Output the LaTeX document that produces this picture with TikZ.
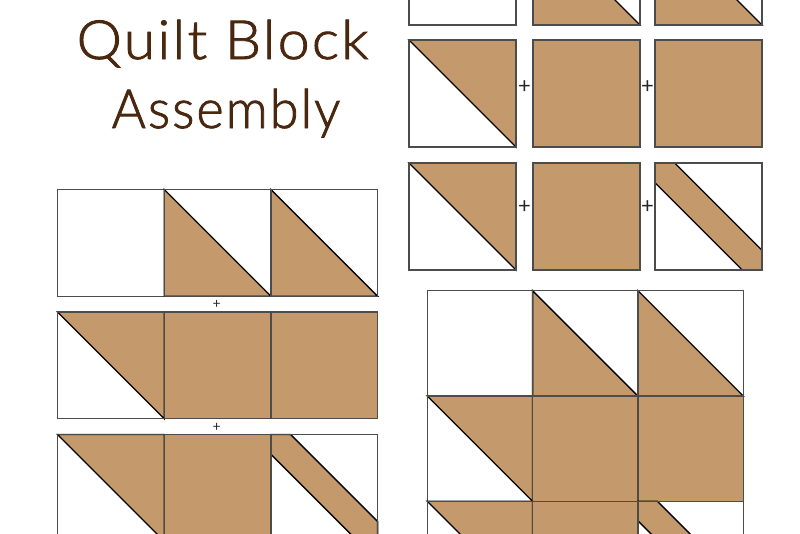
\documentclass[tikz,border=0pt]{standalone}
\usepackage{fontspec}
\setmainfont{Lato Light}[LetterSpace=4,FakeBold=1.6]
\newfontfamily\plusfont{Lato}
\definecolor{quiltbrown}{HTML}{C49A6C}
\definecolor{titlebrown}{HTML}{4A2810}
\newcommand\qsW[3]{\draw[sqline,fill=white] (#1,#2) rectangle ++(#3,#3);}
\newcommand\qsB[3]{\draw[sqline,fill=quiltbrown] (#1,#2) rectangle ++(#3,#3);}
\newcommand\qsL[3]{\fill[white] (#1,#2) rectangle ++(#3,#3);
  \draw[diagline,fill=quiltbrown] (#1,#2) -- ++(0,#3) -- ++(#3,0) -- cycle;
  \draw[sqline] (#1,#2) rectangle ++(#3,#3);}
\newcommand\qsU[3]{\fill[white] (#1,#2) rectangle ++(#3,#3);
  \draw[diagline,fill=quiltbrown] (#1,#2) -- ++(#3,0) -- ++(0,#3) -- cycle;
  \draw[sqline] (#1,#2) rectangle ++(#3,#3);}
\newcommand\qsS[3]{\fill[white] (#1,#2) rectangle ++(#3,#3);
  \draw[diagline,fill=quiltbrown] (#1,#2) -- ++({0.185*#3},0) -- ++({0.815*#3},{0.815*#3}) -- ++(0,{0.185*#3}) -- ++({-0.185*#3},0) -- ++({-0.815*#3},{-0.815*#3}) -- cycle;
  \draw[sqline] (#1,#2) rectangle ++(#3,#3);}
\tikzset{
  sqline/.style={draw=black!70,line width=1.4pt},
  diagline/.style={draw=black,line width=1.3pt,line join=miter},
  titletext/.style={text=titlebrown,font=\fontsize{54}{60}\selectfont,inner sep=0pt,anchor=base},
  plussmall/.style={font=\plusfont\fontsize{14}{14}\selectfont,inner sep=0pt,text=black!85},
  plusbig/.style={font=\plusfont\fontsize{22}{22}\selectfont,inner sep=0pt,text=black!85}
}
\begin{document}
\begin{tikzpicture}[x=1pt,y=-1pt]
\useasboundingbox (0,0) rectangle (800,533);
\fill[white] (0,0) rectangle (800,533);
% title
\node[titletext] (t1) at (222.5,59) {\scalebox{1.06}[1]{Quilt Block}};
\node[titletext] (t2) at (226,128) {\scalebox{0.965}[1]{Assembly}};
% top right: rows of three
\qsW{409}{-82}{107} \qsL{533}{-82}{107} \qsL{655}{-82}{107}
\qsU{409}{40}{107} \qsB{533}{40}{107} \qsB{655}{40}{107}
\qsU{409}{163}{107} \qsB{533}{163}{107} \qsS{655}{163}{107}
\node[plusbig] (p1) at (524.5,87) {+};
\node[plusbig] (p2) at (647.5,87) {+};
\node[plusbig] (p3) at (524.5,207) {+};
\node[plusbig] (p4) at (647.5,207) {+};
% left: joined rows
\qsW{57.5}{189.5}{106.7} \qsL{164.2}{189.5}{106.7} \qsL{270.9}{189.5}{106.7}
\qsU{57.5}{312}{106.7} \qsB{164.2}{312}{106.7} \qsB{270.9}{312}{106.7}
\qsU{57.5}{434.5}{106.7} \qsB{164.2}{434.5}{106.7} \qsS{270.9}{434.5}{106.7}
\node[plussmall] (p5) at (216.8,304) {+};
\node[plussmall] (p6) at (216.8,427) {+};
% bottom right: finished block
\qsW{427.3}{290.7}{105.3} \qsL{532.6}{290.7}{105.3} \qsL{637.9}{290.7}{105.3}
\qsU{427.3}{396}{105.3} \qsB{532.6}{396}{105.3} \qsB{637.9}{396}{105.3}
\qsU{427.3}{501.3}{105.3} \qsB{532.6}{501.3}{105.3} \qsS{637.9}{501.3}{105.3}
\end{tikzpicture}
\end{document}
